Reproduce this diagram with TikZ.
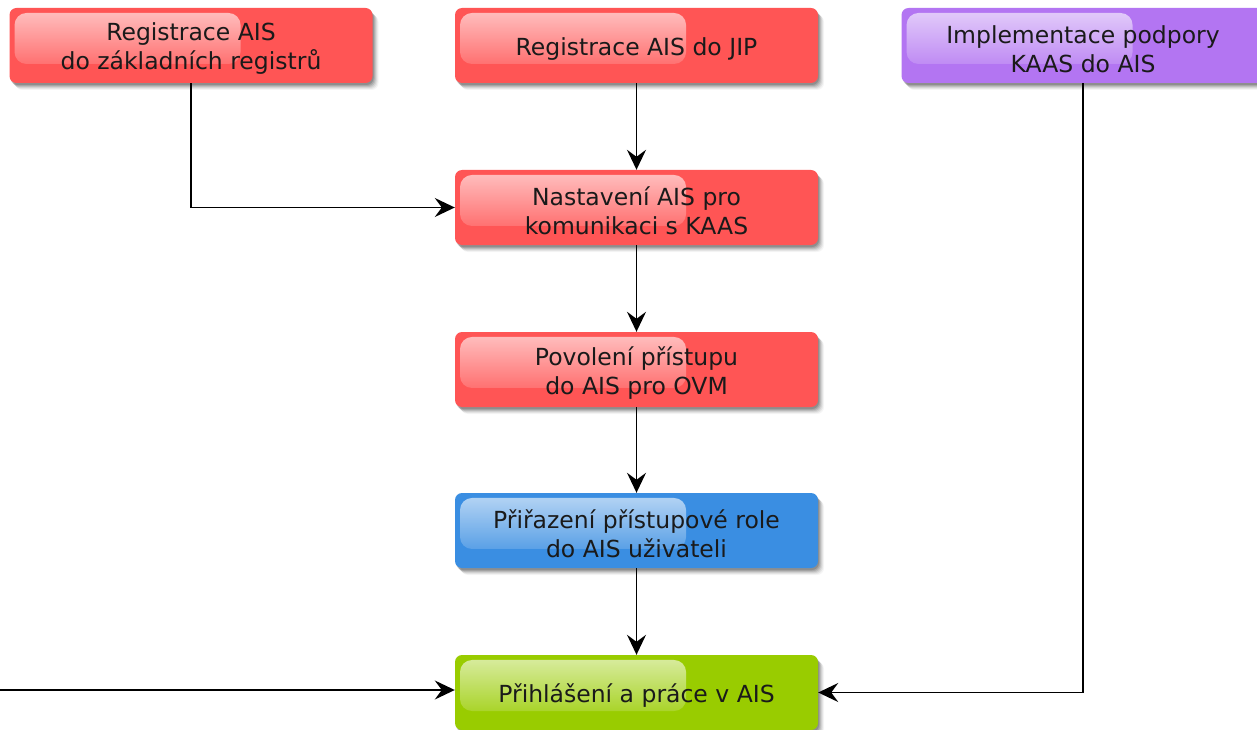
\documentclass[tikz,border=0pt]{standalone}
\usepackage{fontspec}
\setmainfont{DejaVu Sans}
\usetikzlibrary{arrows.meta,fadings,calc}
\definecolor{bred}{HTML}{FF5555}
\definecolor{bpurple}{HTML}{B375F2}
\definecolor{bblue}{HTML}{3A8EE2}
\definecolor{bgreen}{HTML}{99CC00}
\definecolor{txt}{HTML}{1A1A1A}
\tikzfading[name=glossfade, top color=transparent!35, bottom color=transparent!100]
\tikzset{
  shlayer/.style 2 args={preaction={fill=black, fill opacity=#2, transform canvas={xshift=#1, yshift=-#1-1pt}}},
  box/.style={fill=#1, draw=none, rounded corners=7pt, minimum width=363pt, minimum height=75pt,
    inner sep=0pt,
    shlayer={1pt}{0.14}, shlayer={2pt}{0.12}, shlayer={3pt}{0.10}, shlayer={4pt}{0.08}, shlayer={5pt}{0.06}, shlayer={6pt}{0.04},
    path picture={\fill[white, rounded corners=12pt, path fading=glossfade]
      ($(path picture bounding box.north west)+(5,5)$) rectangle
      ($(path picture bounding box.north west)+(231,56)$);}},
  lbl/.style={inner sep=0pt, align=center, text=txt, font=\fontsize{23.5}{29}\selectfont, yshift=-3.5pt},
  conn/.style={line width=1.6pt, draw=black, -{Stealth[length=20pt,width=19pt,inset=7pt]}},
}
\begin{document}
\begin{tikzpicture}[x=1pt,y=-1pt]
\useasboundingbox[fill=white] (0,0) rectangle (1257,730);
\node[box=bred] (reg) at (191,45.5) {};
\node[box=bred] (jip) at (636.5,45.5) {};
\node[box=bpurple] (impl) at (1083,45.5) {};
\node[box=bred] (nast) at (636.5,207.5) {};
\node[box=bred] (pov) at (636.5,369.5) {};
\node[box=bblue] (prir) at (636.5,530.5) {};
\node[box=bgreen] (prih) at (636.5,692.5) {};
\node[lbl] (reg-t) at (reg) {Registrace AIS\\do základních registrů};
\node[lbl] (jip-t) at (jip) {Registrace AIS do JIP};
\node[lbl] (impl-t) at (impl) {Implementace podpory\\KAAS do AIS};
\node[lbl] (nast-t) at (nast) {Nastavení AIS pro\\komunikaci s KAAS};
\node[lbl] (pov-t) at (pov) {Povolení přístupu\\do AIS pro OVM};
\node[lbl] (prir-t) at (prir) {Přiřazení přístupové role\\do AIS uživateli};
\node[lbl] (prih-t) at (prih) {Přihlášení a práce v AIS};
\coordinate (free) at (0,690);
\draw[conn] (jip) -- (nast);
\draw[conn] (nast) -- (pov);
\draw[conn] (pov) -- (prir);
\draw[conn] (prir) -- (prih);
\draw[conn] (reg.south) |- (nast.west);
\draw[conn] (impl.south) |- (prih.east);
\draw[conn] (free) -- (free -| prih.west);
\end{tikzpicture}
\end{document}
